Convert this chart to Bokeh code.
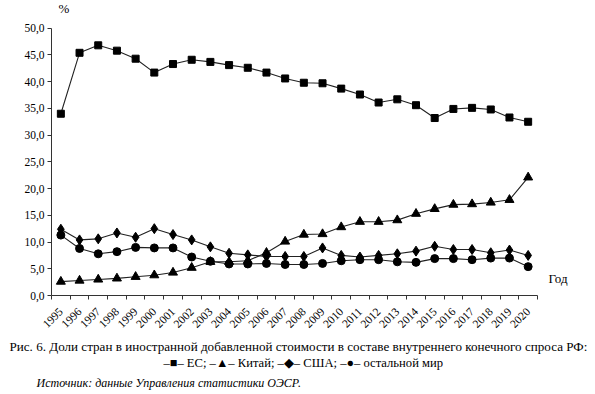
from bokeh.plotting import figure
from bokeh.models import (Range1d, FixedTicker, CustomJSTickFormatter, Label, Title, ColumnDataSource)
from bokeh.embed import file_html
from bokeh.resources import INLINE
import math

years = list(range(1995, 2021))
eu = [34.0, 45.4, 46.8, 45.8, 44.3, 41.7, 43.3, 44.1, 43.7, 43.1, 42.6, 41.7, 40.6,
      39.8, 39.7, 38.7, 37.6, 36.1, 36.7, 35.6, 33.2, 34.9, 35.1, 34.8, 33.3, 32.5]
china = [2.6, 2.8, 3.0, 3.2, 3.5, 3.8, 4.3, 5.2, 6.3, 6.3, 6.5, 8.0, 10.1,
         11.4, 11.5, 12.8, 13.8, 13.8, 14.1, 15.3, 16.2, 17.0, 17.1, 17.4, 17.9, 22.1]
usa = [12.4, 10.4, 10.6, 11.7, 10.9, 12.5, 11.4, 10.4, 9.1, 7.9, 7.6, 7.3, 7.3,
       7.3, 8.9, 7.5, 7.2, 7.5, 7.8, 8.3, 9.2, 8.6, 8.6, 8.0, 8.5, 7.5]
rest = [11.3, 8.8, 7.8, 8.2, 9.0, 8.9, 8.9, 7.2, 6.4, 5.9, 5.9, 6.0, 5.8,
        5.8, 6.0, 6.5, 6.7, 6.7, 6.3, 6.2, 6.9, 6.9, 6.7, 7.0, 7.0, 5.4]
y_ticks = [0, 5, 10, 15, 20, 25, 30, 35, 40, 45, 50]

caption1 = "Рис. 6. Доли стран в иностранной добавленной стоимости в составе внутреннего конечного спроса РФ:"
caption2 = "–■– ЕС; –▲– Китай; –◆– США; –●– остальной мир"
source_txt = "Источник: данные Управления статистики ОЭСР."

FONT = "Liberation Serif"

# frame: left 51px, bottom at 298px, top at 0 (50.0 sits 28px below the top), right edge of page
PX_Y = 270 / 50.0
PX_X = 486 / 26.0
y_end = 298 / PX_Y
x_end = years[0] - 0.5 + 544 / PX_X

p = figure(width=595, height=394, output_backend="svg", toolbar_location=None, title=None,
           x_range=Range1d(years[0] - 0.5, x_end),
           y_range=Range1d(0, y_end),
           min_border_left=51, min_border_right=0, min_border_top=0, min_border_bottom=96)
p.outline_line_color = None
p.xgrid.visible = False
p.ygrid.visible = False
p.background_fill_color = "white"
p.border_fill_color = "white"

src = ColumnDataSource(dict(x=years, eu=eu, china=china, usa=usa, rest=rest))
lc = "#222222"
p.line("x", "eu", source=src, line_color=lc, line_width=1.1)
p.scatter("x", "eu", source=src, marker="square", size=7, color="black")
p.line("x", "china", source=src, line_color=lc, line_width=1.1)
p.scatter("x", "china", source=src, marker="triangle", size=9, color="black")
p.line("x", "usa", source=src, line_color=lc, line_width=1.1)
p.scatter("x", "usa", source=src, marker="diamond", size=10, color="black")
p.line("x", "rest", source=src, line_color=lc, line_width=1.1)
p.scatter("x", "rest", source=src, marker="circle", size=8, color="black")

# axes
p.yaxis.bounds = (0, 50)
p.yaxis.ticker = FixedTicker(ticks=y_ticks)
p.yaxis.formatter = CustomJSTickFormatter(code="return tick.toFixed(1).replace('.', ',');")
p.yaxis.major_tick_out = 4
p.yaxis.major_tick_in = 0
p.yaxis.minor_tick_out = 0
p.yaxis.minor_tick_in = 0
p.yaxis.axis_line_color = "#333333"
p.yaxis.major_tick_line_color = "#333333"
p.yaxis.major_label_text_font = FONT
p.yaxis.major_label_text_font_size = "11.5px"
p.yaxis.major_label_text_color = "black"
p.yaxis.major_label_standoff = 3

bounds = [y - 0.5 for y in years] + [years[-1] + 0.5]
p.xaxis.bounds = (years[0] - 0.5, years[-1] + 0.5)
p.xaxis.ticker = FixedTicker(ticks=years, minor_ticks=bounds)
p.xaxis.formatter = CustomJSTickFormatter(code="return tick.toFixed(0);")
p.xaxis.major_tick_out = 0
p.xaxis.major_tick_in = 0
p.xaxis.minor_tick_out = 4
p.xaxis.minor_tick_in = 0
p.xaxis.axis_line_color = "#333333"
p.xaxis.minor_tick_line_color = "#333333"
p.xaxis.major_label_orientation = math.pi / 4
p.xaxis.major_label_text_font = FONT
p.xaxis.major_label_text_font_size = "11.5px"
p.xaxis.major_label_text_color = "black"
p.xaxis.major_label_standoff = 10

# texts inside the frame (screen units relative to the frame: x from left, y from bottom)
p.add_layout(Label(x=7, y=280, x_units="screen", y_units="screen", text="%",
                   text_font=FONT, text_font_size="13px", text_color="black"))
p.add_layout(Label(x=497, y=10, x_units="screen", y_units="screen", text="Год",
                   text_font=FONT, text_font_size="13px", text_color="black"))

# captions below the axis
p.add_layout(Title(text=caption1, align="left", offset=-42, standoff=4,
                   text_font=FONT, text_font_size="13.1px", text_font_style="normal",
                   text_color="black"), "below")
p.add_layout(Title(text=caption2, align="left", offset=112, standoff=-3,
                   text_font=FONT, text_font_size="12.6px", text_font_style="normal",
                   text_color="black"), "below")
p.add_layout(Title(text=source_txt, align="left", offset=-15, standoff=10,
                   text_font=FONT, text_font_size="12px", text_font_style="italic",
                   text_color="black"), "below")

open("out.html", "w").write(file_html(p, INLINE))
